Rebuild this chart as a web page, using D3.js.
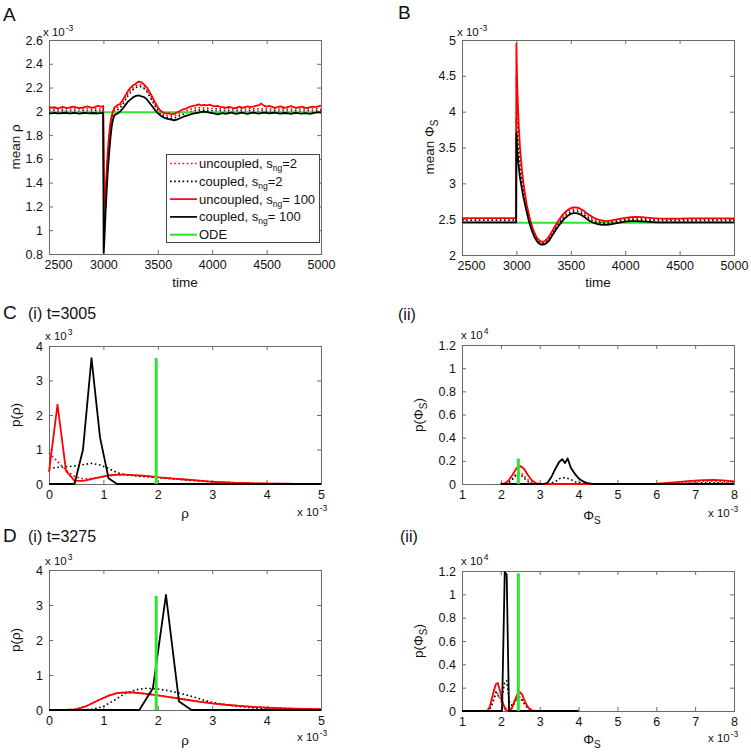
<!DOCTYPE html>
<html><head><meta charset="utf-8">
<script src="https://cdn.jsdelivr.net/npm/d3@7"></script>
<style>body{margin:0;background:#fff} svg text{font-family:"Liberation Sans",Arial,Helvetica,sans-serif;fill:#111}</style>
</head><body><script>
// ---------- Panel A: mean rho (x10^-3) vs time ----------
const tA=[2500,2525,2550,2575,2600,2625,2650,2675,2700,2725,2750,2775,2800,2825,2850,2875,2900,2925,2950,2975,
2990,2998,3002,3006,3012,3020,3030,3040,3052,3064,3076,3088,3100,3112,
3125,3150,3175,3200,3225,3250,3275,3300,3325,3350,3375,3400,3425,3450,3475,3500,3525,3550,3575,3600,3625,3650,3675,3700,3725,3750,3775,3800,3825,3850,3875,3900,3925,3950,3975,4000,
4025,4050,4075,4100,4125,4150,4175,4200,4225,4250,4275,4300,4325,4350,4375,4400,4425,4450,4475,4500,4525,4550,4575,4600,4625,4650,4675,4700,4725,4750,4775,4800,4825,4850,4875,4900,4925,4950,4975,5000];
const uncoupled2A=[2.02,2.018,2.022,2.02,2.017,2.021,2.023,2.019,2.02,2.022,2.018,2.02,2.021,2.019,2.022,2.02,2.018,2.021,2.023,2.02,
2.021,2.02,1.65,1.25,1.15,1.28,1.47,1.63,1.78,1.88,1.95,1.99,2.01,2.02,
2.03,2.045,2.075,2.11,2.15,2.18,2.2,2.215,2.225,2.22,2.205,2.18,2.14,2.1,2.06,2.025,1.995,1.975,1.965,1.962,1.96,1.963,1.97,1.98,1.99,2.0,2.01,2.018,2.024,2.028,2.03,2.03,2.028,2.026,2.025,2.024,
2.022,2.02,2.021,2.019,2.02,2.022,2.02,2.018,2.02,2.022,2.021,2.019,2.02,2.022,2.021,2.02,2.019,2.021,2.022,2.02,2.018,2.02,2.021,2.02,2.019,2.021,2.02,2.018,2.02,2.022,2.02,2.019,2.02,2.021,2.02,2.019,2.02,2.021,2.02,2.02];
const coupled2A=[2.003,2.0,2.005,2.002,2.0,2.004,2.003,2.001,2.002,2.005,2.003,2.0,2.002,2.004,2.003,2.001,2.003,2.005,2.002,2.003,
2.004,2.003,1.55,1.15,1.08,1.25,1.44,1.6,1.75,1.86,1.93,1.97,1.99,2.0,
2.01,2.025,2.055,2.09,2.13,2.16,2.185,2.2,2.21,2.205,2.19,2.165,2.125,2.085,2.045,2.01,1.98,1.96,1.95,1.945,1.942,1.945,1.952,1.962,1.972,1.982,1.99,1.997,2.003,2.008,2.01,2.012,2.01,2.008,2.006,2.005,
2.003,2.002,2.004,2.001,2.003,2.004,2.002,2.0,2.003,2.005,2.003,2.001,2.002,2.004,2.003,2.002,2.0,2.003,2.004,2.002,2.001,2.003,2.004,2.002,2.0,2.002,2.003,2.001,2.002,2.004,2.003,2.002,2.0,2.002,2.003,2.004,2.002,2.003,2.004,2.005];
const uncoupled100A=[2.04,2.03,2.035,2.025,2.03,2.038,2.032,2.028,2.035,2.04,2.033,2.027,2.03,2.036,2.042,2.035,2.03,2.038,2.045,2.04,
2.042,2.045,1.6,1.2,1.12,1.3,1.5,1.66,1.8,1.9,1.96,2.0,2.03,2.04,
2.05,2.06,2.09,2.13,2.17,2.2,2.22,2.235,2.25,2.245,2.225,2.2,2.16,2.12,2.075,2.035,2.005,1.99,1.98,1.985,1.975,1.98,1.99,2.0,2.015,2.02,2.03,2.04,2.045,2.05,2.058,2.05,2.055,2.05,2.056,2.048,
2.042,2.045,2.038,2.035,2.03,2.038,2.033,2.025,2.032,2.04,2.03,2.035,2.042,2.036,2.04,2.045,2.05,2.065,2.048,2.04,2.045,2.038,2.03,2.036,2.042,2.035,2.03,2.038,2.044,2.036,2.03,2.035,2.04,2.032,2.028,2.035,2.04,2.036,2.042,2.048];
const coupled100A=[1.985,1.983,1.987,1.984,1.982,1.986,1.988,1.984,1.983,1.986,1.985,1.981,1.984,1.987,1.985,1.983,1.986,1.984,1.982,1.985,
1.986,1.984,0.81,0.86,0.98,1.15,1.33,1.49,1.64,1.77,1.87,1.93,1.965,1.975,
1.98,1.995,2.02,2.05,2.08,2.1,2.12,2.13,2.135,2.125,2.12,2.1,2.07,2.04,2.01,1.985,1.965,1.95,1.94,1.935,1.93,1.925,1.93,1.94,1.95,1.96,1.965,1.975,1.98,1.985,1.99,1.995,1.998,1.995,1.99,1.985,
1.98,1.975,1.98,1.985,1.978,1.984,1.99,1.982,1.978,1.985,1.99,1.983,1.978,1.985,1.99,1.986,1.98,1.984,1.99,1.988,1.982,1.986,1.99,1.985,1.98,1.984,1.986,1.982,1.978,1.984,1.988,1.983,1.98,1.985,1.982,1.978,1.984,1.99,1.993,1.99];
const odeTimeA=[2500,5000];
const odeA=[1.993,1.993];

// ---------- Panel B: mean Phi_S (x10^-3) vs time ----------
const tB=[2500,2600,2700,2800,2900,2998,
3000,3005,3010,3020,3033,3050,3065,3080,3095,3110,3125,3140,3155,3170,3185,3200,3215,3230,3245,3260,3280,3300,
3325,3350,3375,3400,3425,3450,3475,3500,3525,3550,3575,3600,3625,3650,3675,3700,3725,3750,3775,3800,3825,3850,3875,3900,
3950,4000,4050,4100,4150,4200,4250,4300,4350,4400,
4500,4600,4700,4800,4900,5000];
const uncoupled2B=[2.505,2.505,2.505,2.505,2.505,2.505,
4.5,4.2,3.95,3.65,3.38,3.12,2.95,2.8,2.67,2.57,2.48,2.4,2.33,2.28,2.235,2.205,2.185,2.172,2.17,2.18,2.2,2.24,
2.3,2.37,2.43,2.49,2.54,2.58,2.61,2.63,2.64,2.64,2.63,2.61,2.585,2.555,2.53,2.508,2.49,2.478,2.47,2.465,2.463,2.465,2.47,2.477,
2.49,2.5,2.508,2.51,2.509,2.506,2.503,2.5,2.499,2.499,
2.5,2.5,2.5,2.5,2.5,2.5];
const coupled2B=[2.485,2.485,2.485,2.485,2.485,2.485,
3.9,3.75,3.6,3.42,3.22,3.02,2.88,2.75,2.64,2.54,2.45,2.38,2.31,2.26,2.22,2.19,2.17,2.158,2.157,2.165,2.185,2.22,
2.28,2.345,2.405,2.46,2.51,2.55,2.58,2.6,2.612,2.612,2.603,2.583,2.558,2.53,2.505,2.483,2.467,2.455,2.448,2.444,2.443,2.445,2.45,2.458,
2.472,2.483,2.49,2.492,2.49,2.487,2.484,2.482,2.481,2.481,
2.482,2.482,2.482,2.482,2.482,2.482];
const uncoupled100B=[2.515,2.515,2.515,2.515,2.515,2.515,
4.95,4.55,4.25,3.85,3.5,3.2,3.0,2.85,2.7,2.6,2.5,2.42,2.35,2.3,2.25,2.22,2.2,2.185,2.185,2.195,2.22,2.26,
2.32,2.39,2.45,2.51,2.56,2.6,2.63,2.655,2.665,2.665,2.655,2.635,2.61,2.58,2.555,2.53,2.51,2.495,2.485,2.478,2.475,2.477,2.482,2.49,
2.505,2.518,2.527,2.53,2.528,2.522,2.515,2.51,2.507,2.506,
2.508,2.51,2.51,2.51,2.51,2.51];
const coupled100B=[2.455,2.455,2.455,2.455,2.455,2.455,
3.7,3.55,3.42,3.25,3.08,2.93,2.8,2.7,2.6,2.5,2.42,2.35,2.29,2.24,2.2,2.17,2.155,2.145,2.145,2.15,2.17,2.2,
2.26,2.32,2.38,2.43,2.48,2.52,2.55,2.575,2.585,2.585,2.575,2.555,2.53,2.5,2.475,2.455,2.44,2.43,2.423,2.42,2.42,2.423,2.43,2.438,
2.452,2.465,2.472,2.473,2.47,2.465,2.46,2.456,2.455,2.455,
2.455,2.455,2.455,2.455,2.455,2.455];
const odeTimeB=[2500,5000];
const odeB=[2.45,2.45];

// ---------- Panel C(i): p(rho) at t=3005 (x: 10^-3, y: 10^3) ----------
const rhoBinsC=[0,0.156,0.313,0.469,0.625,0.781,0.938,1.094,1.25,1.406,1.563,1.719,1.875,2.031,2.188,2.344,2.5,2.656,2.813,2.969,3.125,3.281,3.438,3.594,3.75,3.906,4.063,4.219,4.375,4.531,4.688,4.844,5.0];
const uncoupled2C1=[0.9,0.65,0.4,0.22,0.15,0.16,0.19,0.23,0.26,0.26,0.25,0.23,0.21,0.19,0.17,0.15,0.13,0.11,0.09,0.07,0.055,0.045,0.035,0.028,0.02,0.015,0.012,0.01,0.008,0.006,0.004,0.003,0.002];
const coupled2C1=[0.45,0.48,0.5,0.52,0.56,0.6,0.55,0.45,0.33,0.27,0.24,0.22,0.2,0.18,0.16,0.14,0.12,0.1,0.08,0.065,0.05,0.04,0.03,0.022,0.016,0.012,0.008,0.006,0.004,0.003,0.002,0.001,0];
const uncoupled100C1=[0.35,2.3,0.38,0.1,0.09,0.14,0.2,0.25,0.27,0.27,0.26,0.24,0.22,0.19,0.17,0.15,0.13,0.11,0.09,0.07,0.055,0.045,0.035,0.03,0.02,0.015,0.012,0.01,0.008,0.006,0.004,0.003,0.002];
const coupled100C1=[0,0,0,0,1.0,3.65,1.35,0.17,0,0,0,0,0,0,0,0,0,0,0,0,0,0,0,0,0,0,0,0,0,0,0,0,0];
const odeRhoC1=[1.97,1.97], odePC1=[0,3.65];

// ---------- Panel C(ii): p(Phi_S) at t=3005 (x: 10^-3, y: 10^4) ----------
const u2C2x=[2.0,2.2,2.3,2.4,2.47,2.55,2.65,2.75,2.9,6.0,6.5,7.0,7.3,7.6,8.0];
const u2C2y=[0,0.015,0.05,0.09,0.1,0.085,0.05,0.02,0,0,0.01,0.02,0.025,0.022,0.015];
const c2C2x=[2.0,2.2,2.3,2.4,2.45,2.5,2.6,2.7,2.8,3.2,3.4,3.5,3.6,3.7,3.8,3.9,4.1,4.4,6.5,7.0,7.3,7.6,8.0];
const c2C2y=[0,0.01,0.04,0.08,0.09,0.085,0.05,0.02,0,0,0.02,0.045,0.055,0.05,0.04,0.02,0.005,0,0,0.008,0.012,0.01,0.006];
const u100C2x=[2.0,2.1,2.2,2.3,2.4,2.5,2.6,2.7,2.8,2.9,3.0,4.0,5.0,5.5,6.0,6.3,6.6,6.9,7.2,7.5,7.8,8.0];
const u100C2y=[0,0.005,0.03,0.08,0.135,0.155,0.13,0.075,0.03,0.008,0,0,0,0.001,0.004,0.01,0.018,0.027,0.034,0.035,0.03,0.022];
const c100C2x=[2.0,3.1,3.2,3.3,3.4,3.5,3.58,3.65,3.72,3.8,3.9,4.0,4.1,4.2,4.35,8.0];
const c100C2y=[0,0,0.01,0.06,0.13,0.19,0.215,0.18,0.22,0.14,0.09,0.05,0.025,0.01,0,0];
const odePhiC2=[2.45,2.45], odePC2=[0,0.22];

// ---------- Panel D(i): p(rho) at t=3275 ----------
const u100D1x=[0,0.3,0.5,0.7,0.9,1.1,1.25,1.4,1.55,1.75,2.0,2.25,2.5,2.75,3.0,3.25,3.5,3.75,4.0,4.25,4.5,4.75,5.0];
const u100D1y=[0,0.002,0.02,0.12,0.27,0.41,0.48,0.5,0.5,0.47,0.42,0.36,0.3,0.24,0.19,0.15,0.12,0.09,0.07,0.055,0.04,0.03,0.025];
const u2D1y=[0,0.003,0.025,0.13,0.28,0.42,0.49,0.51,0.5,0.47,0.42,0.36,0.3,0.245,0.19,0.15,0.12,0.09,0.07,0.055,0.04,0.03,0.025];
const c2D1x=[0,0.6,0.8,1.0,1.2,1.4,1.6,1.8,2.0,2.2,2.4,2.6,2.8,3.0,3.25,3.5,3.75,4.0,4.25,4.5,5.0];
const c2D1y=[0,0,0.02,0.1,0.28,0.47,0.58,0.62,0.6,0.55,0.48,0.4,0.3,0.22,0.15,0.1,0.06,0.035,0.02,0.01,0];
const c100D1x=[0,1.66,1.91,2.15,2.39,2.62,5.0];
const c100D1y=[0,0,0.62,3.29,0.24,0,0];
const odeRhoD1=[1.97,1.97], odePD1=[0,3.26];

// ---------- Panel D(ii): p(Phi_S) at t=3275 ----------
const u2D2x=[1.0,1.7,1.8,1.88,1.95,2.05,2.15,2.25,2.35,2.45,2.55,2.65,2.75,2.85,3.0];
const u2D2y=[0,0,0.09,0.17,0.13,0.05,0.02,0.03,0.09,0.13,0.1,0.05,0.015,0,0];
const c2D2x=[1.0,1.7,1.8,1.88,1.95,2.02,2.1,2.15,2.22,2.3,2.4,2.47,2.55,2.65,2.75,2.85,4.0];
const c2D2y=[0,0,0.08,0.16,0.12,0.1,0.25,0.26,0.08,0.04,0.1,0.12,0.09,0.04,0.01,0,0];
const u100D2x=[1.0,1.65,1.72,1.8,1.87,1.92,1.98,2.05,2.12,2.2,2.28,2.35,2.42,2.48,2.55,2.62,2.7,2.8,2.9,3.0];
const u100D2y=[0,0,0.04,0.15,0.23,0.24,0.17,0.07,0.01,0,0.02,0.08,0.14,0.165,0.14,0.08,0.03,0.005,0,0];
const c100D2x=[1.0,2.03,2.1,2.15,2.21,4.0];
const c100D2y=[0,0,1.19,1.17,0,0];
const odePhiD2=[2.45,2.45], odePD2=[0,1.18];

// ---------- ticks ----------
const timeTicks=[2500,3000,3500,4000,4500,5000];
const rhoMeanTicks=[0.8,1,1.2,1.4,1.6,1.8,2,2.2,2.4,2.6];
const phiMeanTicks=[2,2.5,3,3.5,4,4.5,5];
const rhoTicks=[0,1,2,3,4,5];
const pRhoTicks=[0,1,2,3,4];
const phiTicks=[1,2,3,4,5,6,7,8];
const pPhiTicks=[0,0.2,0.4,0.6,0.8,1,1.2];

const legendLabels=[["uncoupled, s","ng","=2"],["coupled, s","ng","=2"],["uncoupled, s","ng","= 100"],["coupled, s","ng","= 100"],["ODE","",""]];

// ---------- drawing ----------
const RED="#ff0000", BLK="#000000", GRN="#2ee62e", DOT="1.6,2.6";
const FS=12.5;
const svg=d3.select("body").append("svg").attr("width",751).attr("height",754);
let clipN=0;
function makePanel(p){
  const x=d3.scaleLinear().domain(p.xd).range([p.l,p.r]);
  const y=d3.scaleLinear().domain(p.yd).range([p.b,p.t]);
  const g=svg.append("g");
  const fmt=d=>String(+d.toFixed(2));
  const ax=(gen,tx)=>g.append("g").attr("transform",tx).call(gen).call(s=>{
    s.attr("font-family",null).attr("font-size",FS);
    s.select(".domain").remove();
    s.selectAll("line").attr("stroke","#6a6a6a");
  });
  const bx=ax(d3.axisBottom(x).tickValues(p.xt).tickFormat(fmt).tickSize(-4).tickPadding(6.5),`translate(0,${p.b})`);
  if(p.firstShift) bx.selectAll(".tick text").filter((d,i)=>i===0).attr("dx",p.firstShift);
  ax(d3.axisTop(x).tickValues(p.xt).tickFormat("").tickSize(-4),`translate(0,${p.t})`);
  ax(d3.axisLeft(y).tickValues(p.yt).tickFormat(fmt).tickSize(-4).tickPadding(6),`translate(${p.l},0)`);
  ax(d3.axisRight(y).tickValues(p.yt).tickFormat("").tickSize(-4),`translate(${p.r},0)`);
  g.append("rect").attr("x",p.l+0.5).attr("y",p.t+0.5).attr("width",p.r-p.l).attr("height",p.b-p.t)
    .attr("fill","none").attr("stroke","#6a6a6a").attr("stroke-width",1);
  const id="clip"+(clipN++);
  svg.append("clipPath").attr("id",id).append("rect").attr("x",p.l-1).attr("y",p.t-1).attr("width",p.r-p.l+3).attr("height",p.b-p.t+3);
  const plot=svg.append("g").attr("clip-path",`url(#${id})`);
  return {x,y,plot};
}
function line(P,xs,ys,color,w,dash){
  P.plot.append("path").datum(xs.map((v,i)=>[v,ys[i]]))
    .attr("d",d3.line().x(d=>P.x(d[0])).y(d=>P.y(d[1])))
    .attr("fill","none").attr("stroke",color).attr("stroke-width",w)
    .attr("stroke-dasharray",dash||null).attr("stroke-linejoin","round");
}
function expo(x,y,e){
  const t=svg.append("text").attr("x",x).attr("y",y).style("font-size","11.5px");
  t.append("tspan").text("x 10");
  t.append("tspan").attr("dy",-5).attr("dx",1).style("font-size","8.5px").text(e);
}
function label(x,y,parts,opts={}){
  const t=svg.append("text").attr("text-anchor","middle").style("font-size",(opts.fs||13.5)+"px");
  if(opts.rot) t.attr("transform",`translate(${x},${y}) rotate(-90)`); else t.attr("x",x).attr("y",y);
  let sub=false;
  parts.forEach(p=>{
    const isSub=p.startsWith("_");
    const s=t.append("tspan").text(isSub?p.slice(1):p);
    if(isSub){s.attr("dy",4).style("font-size","10px");sub=true;}
    else if(sub){s.attr("dy",-4);sub=false;}
  });
}
function txt(x,y,s,fs){svg.append("text").attr("x",x).attr("y",y).style("font-size",fs+"px").text(s);}

// Panel A
const A=makePanel({xd:[2500,5000],yd:[0.8,2.6],l:49,r:321,t:40,b:254,xt:timeTicks,yt:rhoMeanTicks,firstShift:9});
line(A,tA,uncoupled2A,RED,1.6,DOT);
line(A,tA,coupled2A,BLK,1.6,DOT);
line(A,odeTimeA,odeA,GRN,2);
line(A,tA,uncoupled100A,RED,1.8);
line(A,tA,coupled100A,BLK,1.8);
// Panel B
const B=makePanel({xd:[2500,5000],yd:[2,5],l:462,r:734,t:40,b:255,xt:timeTicks,yt:phiMeanTicks,firstShift:9});
line(B,odeTimeB,odeB,GRN,2);
line(B,tB,uncoupled2B,RED,1.6,DOT);
line(B,tB,coupled2B,BLK,1.6,DOT);
line(B,tB,uncoupled100B,RED,1.8);
line(B,tB,coupled100B,BLK,1.8);
// Panel C(i)
const C1=makePanel({xd:[0,5],yd:[0,4],l:49,r:321,t:346,b:484,xt:rhoTicks,yt:pRhoTicks});
line(C1,rhoBinsC,uncoupled2C1,RED,1.6,DOT);
line(C1,rhoBinsC,coupled2C1,BLK,1.6,DOT);
line(C1,rhoBinsC,uncoupled100C1,RED,1.8);
line(C1,rhoBinsC,coupled100C1,BLK,1.8);
line(C1,odeRhoC1,odePC1,GRN,3);
// Panel C(ii)
const C2=makePanel({xd:[1,8],yd:[0,1.2],l:462,r:734,t:345,b:484,xt:phiTicks,yt:pPhiTicks});
line(C2,u2C2x,u2C2y,RED,1.6,DOT);
line(C2,c2C2x,c2C2y,BLK,1.6,DOT);
line(C2,u100C2x,u100C2y,RED,1.8);
line(C2,c100C2x,c100C2y,BLK,1.8);
line(C2,odePhiC2,odePC2,GRN,3);
// Panel D(i)
const D1=makePanel({xd:[0,5],yd:[0,4],l:49,r:321,t:570,b:710,xt:rhoTicks,yt:pRhoTicks});
line(D1,u100D1x,u2D1y,RED,1.6,DOT);
line(D1,c2D1x,c2D1y,BLK,1.6,DOT);
line(D1,u100D1x,u100D1y,RED,1.8);
line(D1,c100D1x,c100D1y,BLK,1.8);
line(D1,odeRhoD1,odePD1,GRN,3);
// Panel D(ii)
const D2=makePanel({xd:[1,8],yd:[0,1.2],l:462,r:734,t:571,b:711,xt:phiTicks,yt:pPhiTicks});
line(D2,u2D2x,u2D2y,RED,1.6,DOT);
line(D2,c2D2x,c2D2y,BLK,1.6,DOT);
line(D2,u100D2x,u100D2y,RED,1.8);
line(D2,c100D2x,c100D2y,BLK,1.8);
line(D2,odePhiD2,odePD2,GRN,3);

// Legend (panel A)
const lg=svg.append("g");
lg.append("rect").attr("x",166.5).attr("y",154.5).attr("width",153).attr("height",88).attr("fill","#fff").attr("stroke","#444");
const lgStyle=[[RED,DOT],[BLK,DOT],[RED,null],[BLK,null],[GRN,null]];
legendLabels.forEach((lab,i)=>{
  const yy=163.5+i*17.8;
  lg.append("line").attr("x1",170).attr("x2",197).attr("y1",yy).attr("y2",yy)
    .attr("stroke",lgStyle[i][0]).attr("stroke-width",lgStyle[i][0]===GRN?2:1.7).attr("stroke-dasharray",lgStyle[i][1]);
  const t=lg.append("text").attr("x",199).attr("y",yy+4.5).style("font-size","13px");
  t.append("tspan").text(lab[0]);
  if(lab[1]){t.append("tspan").attr("dy",3).style("font-size","8.5px").text(lab[1]);
    t.append("tspan").attr("dy",-3).text(lab[2]);}
});

// Exponent labels
expo(43,36,"-3"); expo(457,36,"-3");
expo(45,340,"3"); expo(461,339,"4");
expo(45,565,"3"); expo(461,565,"4");
expo(297,516,"-3"); expo(708,517,"-3");
expo(297,741,"-3"); expo(708,742,"-3");

// Axis labels
label(20,147,["mean ρ"],{rot:true});
label(434,147,["mean Φ","_S"],{rot:true});
label(185,287,["time"]);
label(598,287,["time"]);
label(20,415,["p(ρ)"],{rot:true});
label(423,415,["p(Φ","_S",")"],{rot:true});
label(185,518,["ρ"]);
label(592,520,["Φ","_S"]);
label(20,640,["p(ρ)"],{rot:true});
label(423,641,["p(Φ","_S",")"],{rot:true});
label(185,745,["ρ"]);
label(592,744,["Φ","_S"]);

// Panel letters and titles
txt(3,21,"A",19); txt(398,19,"B",19);
txt(3,319,"C",19); txt(28,319,"(i) t=3005",16); txt(398,320,"(ii)",16);
txt(3,542,"D",19); txt(28,542,"(i) t=3275",16); txt(400,542,"(ii)",16);
</script></body></html>
